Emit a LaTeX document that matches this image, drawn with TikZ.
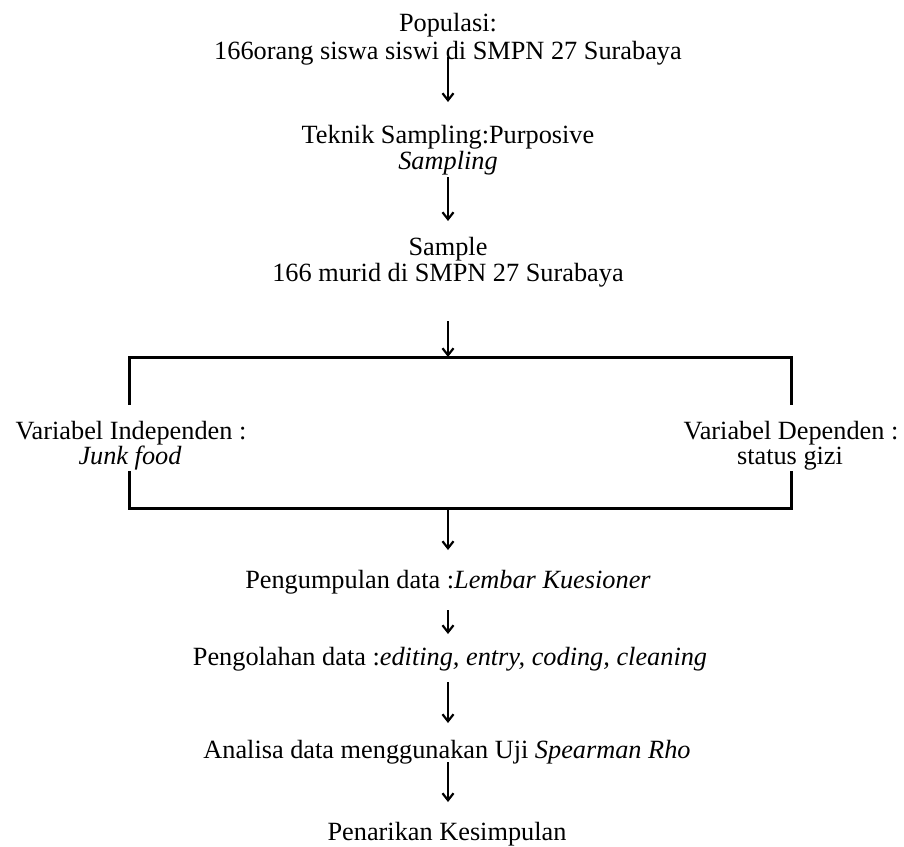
\documentclass[tikz,border=0pt]{standalone}
\usepackage{fontspec}
\setmainfont{Liberation Serif}
\usetikzlibrary{arrows.meta}
\begin{document}
\begin{tikzpicture}[x=1pt,y=-1pt,
  txt/.style={anchor=base,inner sep=0pt,font=\fontsize{26.3}{26}\selectfont},
  arr/.style={line width=1.8pt,-{Straight Barb[length=7pt,width=11pt,line width=2.2pt]}},
  bar/.style={line width=3pt,line cap=rect}]
\useasboundingbox[fill=white] (0,0) rectangle (904,846);
% text nodes
\node[txt] (pop1) at (448,31) {Populasi:};
\node[txt] (pop2) at (448,59) {166orang siswa siswi di SMPN 27 Surabaya};
\node[txt] (tek1) at (448,143) {Teknik Sampling:Purposive};
\node[txt] (tek2) at (448,169) {\itshape Sampling};
\node[txt] (sam1) at (448,255) {Sample};
\node[txt] (sam2) at (448,281) {166 murid di SMPN 27 Surabaya};
\node[txt] (ind1) at (131,439) {Variabel Independen :};
\node[txt] (ind2) at (130,464) {\itshape Junk food};
\node[txt] (dep1) at (791,439) {Variabel Dependen :};
\node[txt] (dep2) at (790,464) {status gizi};
\node[txt] (kum) at (448,588) {Pengumpulan data :\textit{Lembar Kuesioner}};
\node[txt] (olah) at (450,665) {Pengolahan data :\textit{editing, entry, coding, cleaning}};
\node[txt] (ana) at (447,758) {Analisa data menggunakan Uji \textit{Spearman Rho}};
\node[txt] (tarik) at (447,840) {Penarikan Kesimpulan};
% bracket coordinates
\coordinate (top) at (448,357);
\coordinate (bot) at (448,508);
\coordinate (tl) at (129,357);
\coordinate (tr) at (791,357);
\coordinate (bl) at (129,508);
\coordinate (br) at (791,508);
\coordinate (tlend) at (129,403);
\coordinate (trend) at (791,403);
\coordinate (blend) at (129,472);
\coordinate (brend) at (791,472);
\draw[bar] (tlend) -- (tl) -- (tr) -- (trend);
\draw[bar] (blend) -- (bl) -- (br) -- (brend);
% arrows
\draw[arr] ([yshift=2pt]pop2.base) -- ([yshift=41pt]tek1.base);
\draw[arr] ([yshift=-8pt]tek2.base) -- ([yshift=34pt]sam1.base);
\draw[arr] ([yshift=-40pt]sam2.base) -- (top);
\draw[arr] (bot) -- ([yshift=38pt]kum.base);
\draw[arr] ([yshift=-22pt]kum.base) -- ([yshift=31pt,xshift=-2pt]olah.base);
\draw[arr] ([yshift=-17pt,xshift=-2pt]olah.base) -- ([yshift=35pt,xshift=1pt]ana.base);
\draw[arr] ([yshift=-4pt,xshift=1pt]ana.base) -- ([yshift=38pt,xshift=1pt]tarik.base);
\end{tikzpicture}
\end{document}
